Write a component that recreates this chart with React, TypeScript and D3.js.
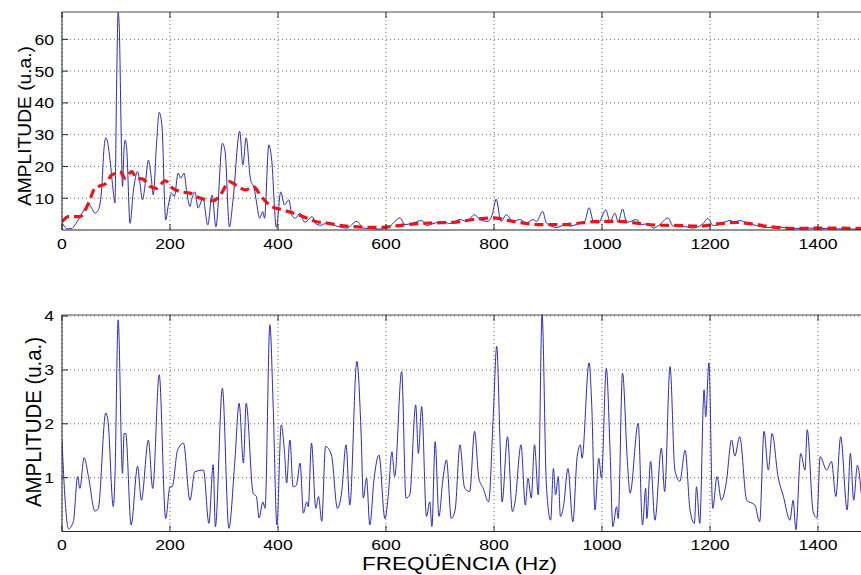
import React from "react";
import * as d3 from "d3";

const W = 861;
const H = 575;

// x axis (Hz)
const xTicks = [0, 200, 400, 600, 800, 1000, 1200, 1400];
const topYTicks = [10, 20, 30, 40, 50, 60];
const bottomYTicks = [1, 2, 3, 4];

// top panel: raw spectrum [Hz, amplitude]
const topSpectrum: [number, number][] = [
  [0, 2.3], [5, 1.0], [10, 0.4], [17, 0.4], [24, 1.6], [33, 4.0], [43, 6.9], [49, 8.3], [55, 6.9], [61, 5.3],
  [67, 6.2], [73, 12], [78, 26], [81, 29], [84, 28], [89, 22], [95, 12], [98, 8.5], [101, 44], [104, 68.5],
  [106, 64], [110, 27], [112, 13.7], [115, 26], [117, 28.3], [120, 25], [126, 2.1], [132, 12], [140, 18.4], [144, 15.2],
  [149, 9.5], [154, 14.2], [160, 22], [165, 17], [169, 11], [175, 27], [180, 37], [185, 33], [192, 3.2], [197, 7.9],
  [203, 11.6], [208, 10.5], [215, 17.9], [220, 16.3], [226, 17.9], [231, 12], [237, 7.4], [240, 9.5], [246, 12], [252, 6.9],
  [261, 10], [270, 1.6], [278, 11], [285, 1.0], [297, 27.3], [302, 24.7], [310, 1.0], [317, 10], [329, 31], [335, 20.5],
  [341, 29], [349, 16], [356, 13], [360, 9], [366, 3.7], [372, 5.8], [375, 3.7], [383, 26.8], [388, 22.6], [397, 0.8],
  [405, 12], [412, 7.9], [420, 9.5], [426, 4.5], [432, 3.7], [441, 5.3], [449, 2.5], [453, 2.7], [463, 4.2], [472, 1.7],
  [480, 1.5], [490, 2.2], [509, 1.2], [527, 0.6], [546, 2.7], [558, 0.6], [589, 0.3], [607, 1.2], [626, 3.8], [635, 1.7],
  [650, 2.2], [666, 3.0], [675, 1.4], [687, 2.0], [706, 2.7], [718, 2.0], [737, 3.3], [749, 2.7], [764, 4.8], [774, 3.3],
  [789, 2.7], [797, 5], [804, 9.7], [813, 2.7], [823, 4.8], [835, 2.7], [848, 3.3], [860, 2.2], [872, 3.3], [879, 2.7],
  [890, 5.9], [897, 2.2], [916, 0.8], [933, 1.7], [941, 1.2], [959, 2.2], [968, 2.7], [976, 7.0], [984, 2.7], [993, 2.2],
  [1007, 6.3], [1015, 2.7], [1024, 5.3], [1030, 2.4], [1038, 6.6], [1046, 2.4], [1064, 3.3], [1073, 1.7], [1086, 2.0], [1095, 0.6],
  [1107, 1.7], [1122, 3.8], [1132, 1.2], [1150, 1.2], [1168, 0.6], [1187, 2.0], [1196, 3.6], [1206, 1.4], [1224, 2.2], [1237, 3.0],
  [1246, 2.4], [1255, 3.0], [1268, 2.2], [1286, 1.4], [1305, 0.8], [1329, 0.9], [1354, 0.4], [1379, 0.6], [1403, 0.5], [1428, 0.4],
  [1453, 0.3], [1480, 0.3],
];

// top panel: smoothed envelope (red dashed)
const topSmoothed: [number, number][] = [
  [0, 2.6], [12, 4.2], [33, 4.2], [49, 8.4], [61, 13.2], [67, 13.7], [80, 14.5], [92, 17.3], [101, 17.9], [107, 18.4],
  [117, 16.3], [129, 18.4], [138, 16.3], [150, 16], [163, 13.7], [175, 13.1], [191, 15.5], [206, 13], [221, 12], [237, 11.6],
  [249, 10.5], [268, 9.5], [280, 9.2], [293, 11], [310, 15.2], [324, 13.9], [340, 12.6], [354, 13.7], [369, 10.5], [388, 7.4],
  [404, 6.5], [423, 5.6], [444, 4.4], [469, 2.7], [494, 2.1], [527, 1.2], [589, 0.8], [638, 1.7], [681, 2.2], [724, 2.4],
  [761, 3.3], [798, 3.8], [835, 2.7], [884, 1.7], [933, 1.7], [959, 2.2], [996, 2.7], [1033, 2.7], [1070, 2.0], [1107, 1.5],
  [1144, 1.4], [1181, 1.2], [1218, 2.0], [1249, 2.4], [1274, 2.0], [1305, 1.2], [1354, 0.5], [1403, 0.6], [1480, 0.5],
];

// bottom panel: spectrum [Hz, amplitude]
const bottomSpectrum: [number, number][] = [
  [0, 1.70], [6, 0.55], [12, 0.05], [21, 0.18], [29, 1.02], [33, 0.80], [41, 1.37], [49, 1.02], [61, 0.38], [67, 0.42],
  [81, 2.20], [85, 2.07], [95, 0.46], [98, 0.99], [104, 3.93], [112, 1.08], [115, 1.82], [118, 1.82], [128, 0.12], [140, 1.21],
  [147, 0.58], [160, 1.70], [168, 0.80], [180, 2.91], [192, 0.24], [200, 0.83], [204, 0.83], [214, 1.51], [225, 1.64], [237, 0.58],
  [246, 1.11], [262, 1.14], [272, 0.15], [280, 1.24], [284, 0.09], [297, 2.66], [309, 0.06], [320, 1.30], [328, 2.38], [336, 1.27],
  [341, 2.38], [354, 0.71], [360, 0.65], [365, 0.25], [372, 0.55], [376, 0.43], [385, 3.84], [391, 2.35], [398, 0.12], [406, 1.98],
  [412, 1.48], [416, 0.90], [422, 1.70], [428, 0.83], [434, 0.86], [441, 1.27], [447, 0.34], [453, 0.55], [456, 0.46], [462, 1.64],
  [470, 0.43], [475, 0.65], [481, 0.19], [488, 1.58], [499, 1.42], [510, 0.43], [518, 0.74], [526, 1.61], [533, 0.49], [546, 3.16],
  [554, 1.79], [558, 0.62], [564, 0.99], [570, 0.12], [578, 0.99], [587, 1.42], [598, 0.24], [604, 0.65], [611, 1.48], [616, 1.02],
  [629, 2.97], [637, 0.62], [644, 0.68], [655, 2.35], [660, 1.45], [666, 2.32], [675, 0.28], [681, 0.55], [685, 0.09], [691, 1.67],
  [698, 0.28], [705, 0.93], [712, 1.33], [721, 0.24], [728, 0.40], [737, 1.61], [745, 0.83], [749, 0.77], [755, 0.74], [764, 1.86],
  [772, 0.99], [780, 0.80], [790, 0.55], [799, 2.23], [805, 3.44], [811, 1.73], [815, 0.55], [825, 1.76], [834, 0.37], [839, 0.55],
  [850, 1.61], [858, 0.49], [863, 0.99], [869, 0.62], [875, 1.61], [882, 0.68], [889, 4.03], [897, 0.86], [905, 0.21], [910, 1.17],
  [914, 0.68], [919, 1.02], [923, 0.28], [929, 0.49], [937, 1.17], [946, 0.18], [954, 1.39], [960, 1.61], [963, 1.36], [976, 3.13],
  [981, 2.35], [987, 0.40], [994, 1.36], [999, 0.99], [1008, 3.03], [1015, 1.48], [1020, 0.09], [1027, 0.46], [1030, 0.24], [1038, 2.94],
  [1047, 1.30], [1052, 0.71], [1067, 2.01], [1075, 0.12], [1081, 0.80], [1083, 0.24], [1090, 1.30], [1098, 0.21], [1110, 1.55], [1116, 0.74],
  [1126, 3.06], [1135, 1.14], [1144, 0.93], [1154, 1.51], [1163, 0.40], [1171, 0.15], [1175, 0.83], [1181, 0.15], [1189, 2.63], [1192, 2.13],
  [1198, 3.13], [1205, 0.43], [1213, 1.02], [1221, 0.58], [1230, 0.9], [1240, 1.70], [1246, 1.4], [1255, 1.76], [1268, 0.58], [1283, 0.49],
  [1292, 0.18], [1300, 1.86], [1308, 1.14], [1315, 1.82], [1326, 1.02], [1336, 0.65], [1348, 0.21], [1354, 0.58], [1359, 0.03], [1368, 1.45],
  [1376, 1.14], [1380, 1.89], [1391, 0.37], [1398, 0.25], [1404, 1.39], [1416, 1.14], [1425, 1.30], [1433, 0.65], [1442, 1.76], [1454, 0.40],
  [1460, 1.45], [1466, 0.58], [1473, 1.23], [1480, 0.71],
];

const FONT = "'Liberation Sans', Arial, Helvetica, sans-serif";
const AXIS = "#262626";
const GRID = "#6a6a6a";

const x = d3.scaleLinear().domain([0, 1480]).range([62, 861.2]);

type PanelProps = {
  id: string;
  top: number;
  bottom: number;
  yMax: number;
  yTicks: number[];
  series: { data: [number, number][]; color: string; width: number; dash?: string }[];
  labelX: number;
  labelY: number;
  labelSize: number;
  labelLen: number;
  labelStretch: number;
};

function Panel(p: PanelProps) {
  const y = d3.scaleLinear().domain([0, p.yMax]).range([p.bottom, p.top]);
  const line = d3
    .line<[number, number]>()
    .x((d) => x(d[0]))
    .y((d) => y(d[1]))
    .curve(d3.curveMonotoneX);
  const left = x.range()[0];
  const right = W + 2;
  const tick = 6;
  const digitW = 9.8;

  return (
    <g>
      <defs>
        <clipPath id={p.id}>
          <rect x={left} y={p.top - 2} width={right - left} height={p.bottom - p.top + 2} />
        </clipPath>
      </defs>
      {/* grid */}
      {xTicks.map((t) => (
        <line key={"gx" + t} x1={x(t)} x2={x(t)} y1={p.top} y2={p.bottom}
          stroke={GRID} strokeWidth={1} strokeDasharray="1 3" />
      ))}
      {p.yTicks.map((t) => (
        <line key={"gy" + t} x1={left} x2={right} y1={y(t)} y2={y(t)}
          stroke={GRID} strokeWidth={1} strokeDasharray="1 3" />
      ))}
      {/* data */}
      <g clipPath={`url(#${p.id})`}>
        {p.series.map((s, i) => (
          <path key={i} d={line(s.data) || ""} fill="none" stroke={s.color}
            strokeWidth={s.width} strokeDasharray={s.dash} strokeLinejoin="round" />
        ))}
      </g>
      {/* box */}
      <line x1={left} x2={right} y1={p.top} y2={p.top} stroke="#4a4a4a" />
      <line x1={left} x2={right} y1={p.bottom} y2={p.bottom} stroke={AXIS} />
      <line x1={left} x2={left} y1={p.top} y2={p.bottom} stroke={AXIS} />
      {/* ticks */}
      {xTicks.map((t) => (
        <g key={"tx" + t}>
          <line x1={x(t)} x2={x(t)} y1={p.bottom} y2={p.bottom - tick} stroke={AXIS} />
          <line x1={x(t)} x2={x(t)} y1={p.top} y2={p.top + tick} stroke={AXIS} />
          <text x={x(t)} y={p.bottom + 18.5} textAnchor="middle" fontFamily={FONT} fontSize={15.5}
            fill="#000" textLength={String(t).length * digitW} lengthAdjust="spacingAndGlyphs">
            {t}
          </text>
        </g>
      ))}
      {p.yTicks.map((t) => (
        <g key={"ty" + t}>
          <line x1={left} x2={left + tick} y1={y(t)} y2={y(t)} stroke={AXIS} />
          <text x={54} y={y(t) + 5.4} textAnchor="end" fontFamily={FONT} fontSize={15.5}
            fill="#000" textLength={String(t).length * digitW} lengthAdjust="spacingAndGlyphs">
            {t}
          </text>
        </g>
      ))}
      <text
        transform={`translate(${p.labelX},${p.labelY}) rotate(-90) scale(1,${p.labelStretch})`}
        textAnchor="middle" fontFamily={FONT} fontSize={p.labelSize} fill="#000"
        textLength={p.labelLen} lengthAdjust="spacingAndGlyphs">
        AMPLITUDE (u.a.)
      </text>
    </g>
  );
}

export default function App() {
  return (
    <svg width={W} height={H} viewBox={`0 0 ${W} ${H}`}
      style={{ position: "absolute", left: 0, top: 0, background: "#fff", display: "block" }}>
      <rect x={0} y={0} width={W} height={H} fill="#fff" />
      <Panel
        id="clipTop" top={12} bottom={230} yMax={68.6} yTicks={topYTicks}
        series={[
          { data: topSpectrum, color: "#2a2ac4", width: 1 },
          { data: topSmoothed, color: "#ec1515", width: 3.2, dash: "9 5" },
        ]}
        labelX={30.5} labelY={126} labelSize={17} labelLen={160} labelStretch={1.12}
      />
      <Panel
        id="clipBottom" top={315} bottom={531.5} yMax={4.02} yTicks={bottomYTicks}
        series={[{ data: bottomSpectrum, color: "#2a2ac4", width: 1 }]}
        labelX={40.5} labelY={422} labelSize={18} labelLen={170} labelStretch={1.18}
      />
      <text x={459.5} y={569.5} textAnchor="middle" fontFamily={FONT} fontSize={18}
        fill="#000" textLength={195} lengthAdjust="spacingAndGlyphs">
        FREQÜÊNCIA (Hz)
      </text>
    </svg>
  );
}
